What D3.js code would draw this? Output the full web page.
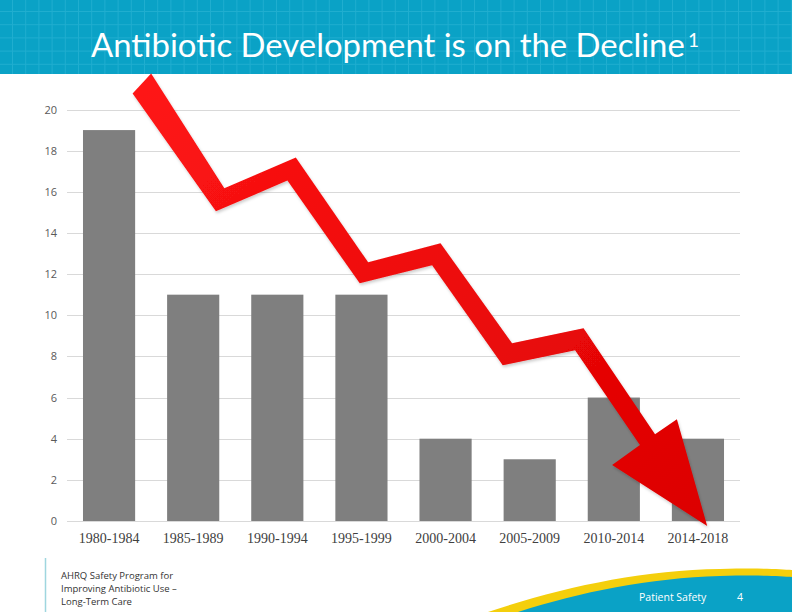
<!DOCTYPE html>
<html><head><meta charset="utf-8">
<script src="https://cdn.jsdelivr.net/npm/d3@7"></script>
<style>html,body{margin:0;padding:0;background:#fff;}svg{display:block;}</style>
</head><body>
<script>
const categories = ["1980-1984","1985-1989","1990-1994","1995-1999","2000-2004","2005-2009","2010-2014","2014-2018"];
const values = [19, 11, 11, 11, 4, 3, 6, 4];
const yTicks = [0, 2, 4, 6, 8, 10, 12, 14, 16, 18, 20];
const titleText = "Antibiotic Development is on the Decline";
const titleSup = "1";
const footerLines = ["AHRQ Safety Program for", "Improving Antibiotic Use \u2013", "Long-Term Care"];
const footerRight = "Patient Safety";
const pageNumber = "4";
// decorative arrow outline in chart units: [band position (0..8), value]
const arrowPoints = [
  [1.00,21.75],[1.87,16.17],[2.72,17.67],[3.58,12.57],[4.44,13.50],[5.29,8.64],[6.14,9.37],
  [6.99,4.22],[7.25,4.95],[7.61,-0.24],[6.48,2.72],[6.81,3.69],
  [6.04,8.30],[5.18,7.57],[4.34,12.43],[3.48,11.55],[2.62,16.55],[1.77,15.05],[0.78,20.78]
];

const W = 792, H = 612;
const svg = d3.select("body").append("svg").attr("width", W).attr("height", H);
const defs = svg.append("defs");

// Header
const headerH = 74;
svg.append("rect").attr("x",0).attr("y",0).attr("width",W).attr("height",headerH).attr("fill","#0aa2c6");
const hg = svg.append("g").attr("stroke","#2fb6d6").attr("stroke-width",1).attr("opacity",0.6);
d3.range(12.5, W, 13.2).forEach(x => hg.append("line").attr("x1",x).attr("x2",x).attr("y1",0).attr("y2",headerH));
d3.range(11.5, headerH, 13.2).forEach(y => hg.append("line").attr("x1",0).attr("x2",W).attr("y1",y).attr("y2",y));

const title = svg.append("text").attr("x",91).attr("y",57)
  .attr("font-family","Lato, 'Open Sans', sans-serif").attr("font-weight",400).attr("font-size",30).attr("fill","#ffffff").text(titleText);
const tw = title.node().getComputedTextLength();
title.attr("font-size", 30 * 594 / tw);
svg.append("text").attr("x",688).attr("y",47)
  .attr("font-family","Lato, 'Open Sans', sans-serif").attr("font-weight",400).attr("font-size",19).attr("fill","#ffffff").text(titleSup);

// Chart
const x = d3.scaleBand().domain(categories).range([67, 740]).paddingInner(0.38).paddingOuter(0.19);
const xPos = d3.scaleLinear().domain([0, categories.length]).range([67, 740]);
const y = d3.scaleLinear().domain([0, 20]).range([521, 109.5]);

const grid = svg.append("g");
grid.selectAll("line").data(yTicks).join("line")
  .attr("x1", 67).attr("x2", 740)
  .attr("y1", d => Math.round(y(d)) + 0.5).attr("y2", d => Math.round(y(d)) + 0.5)
  .attr("stroke", "#d9d9d9").attr("stroke-width", 1);

const yAxis = svg.append("g").attr("transform","translate(67,0)")
  .call(d3.axisLeft(y).tickValues(yTicks).tickSize(0).tickPadding(10));
yAxis.select(".domain").remove();
yAxis.selectAll("text").attr("font-family","'Open Sans', 'Liberation Sans', sans-serif").attr("font-size",11).attr("fill","#595959");

svg.append("g").selectAll("rect").data(values).join("rect")
  .attr("x", (d,i) => x(categories[i])).attr("width", x.bandwidth())
  .attr("y", d => y(d)).attr("height", d => y(0) - y(d))
  .attr("fill", "#7f7f7f");

const xAxis = svg.append("g").attr("transform","translate(0,521)")
  .call(d3.axisBottom(x).tickSize(0).tickPadding(12));
xAxis.select(".domain").remove();
xAxis.selectAll("text").attr("font-family","'Liberation Serif', 'DejaVu Serif', serif").attr("font-size",14).attr("fill","#404040");

// Arrow
const grad = defs.append("linearGradient").attr("id","arrowGrad").attr("x1","0").attr("y1","0").attr("x2","1").attr("y2","1");
grad.append("stop").attr("offset","0%").attr("stop-color","#ff1616");
grad.append("stop").attr("offset","100%").attr("stop-color","#dc0000");
const filt = defs.append("filter").attr("id","shadow").attr("x","-10%").attr("y","-10%").attr("width","120%").attr("height","120%");
filt.append("feDropShadow").attr("dx",1).attr("dy",2).attr("stdDeviation",1.5).attr("flood-color","#000").attr("flood-opacity",0.2);
svg.append("path")
  .attr("d", d3.line().x(p => xPos(p[0])).y(p => y(p[1]))(arrowPoints) + "Z")
  .attr("fill","url(#arrowGrad)").attr("filter","url(#shadow)");

// Footer left
svg.append("line").attr("x1",45.5).attr("x2",45.5).attr("y1",558).attr("y2",H).attr("stroke","#9fd6df").attr("stroke-width",1.5);
const fl = svg.append("g").attr("font-family","'Open Sans', 'Noto Sans', sans-serif").attr("font-size",9.5).attr("fill","#333333");
footerLines.forEach((t,i) => fl.append("text").attr("x",61).attr("y",579 + i*13)
  .attr("font-weight", i === 1 ? 400 : 500).text(t));

// Footer right swoosh
svg.append("path").attr("d","M488,612 C560,588 640,570 720,569 C760,568 780,569 792,570 L792,612 Z").attr("fill","#f4cf0c");
svg.append("path").attr("d","M518,612 C580,592 650,578 720,576 C760,575 780,576 792,577 L792,612 Z").attr("fill","#0aa2c6");
svg.append("text").attr("x",639).attr("y",601).attr("font-family","'Open Sans', 'Noto Sans', sans-serif")
  .attr("font-size",10.5).attr("fill","#ffffff").text(footerRight);
svg.append("text").attr("x",737).attr("y",601).attr("font-family","'Open Sans', 'Noto Sans', sans-serif")
  .attr("font-size",10.5).attr("fill","#ffffff").text(pageNumber);
</script>
</body></html>
